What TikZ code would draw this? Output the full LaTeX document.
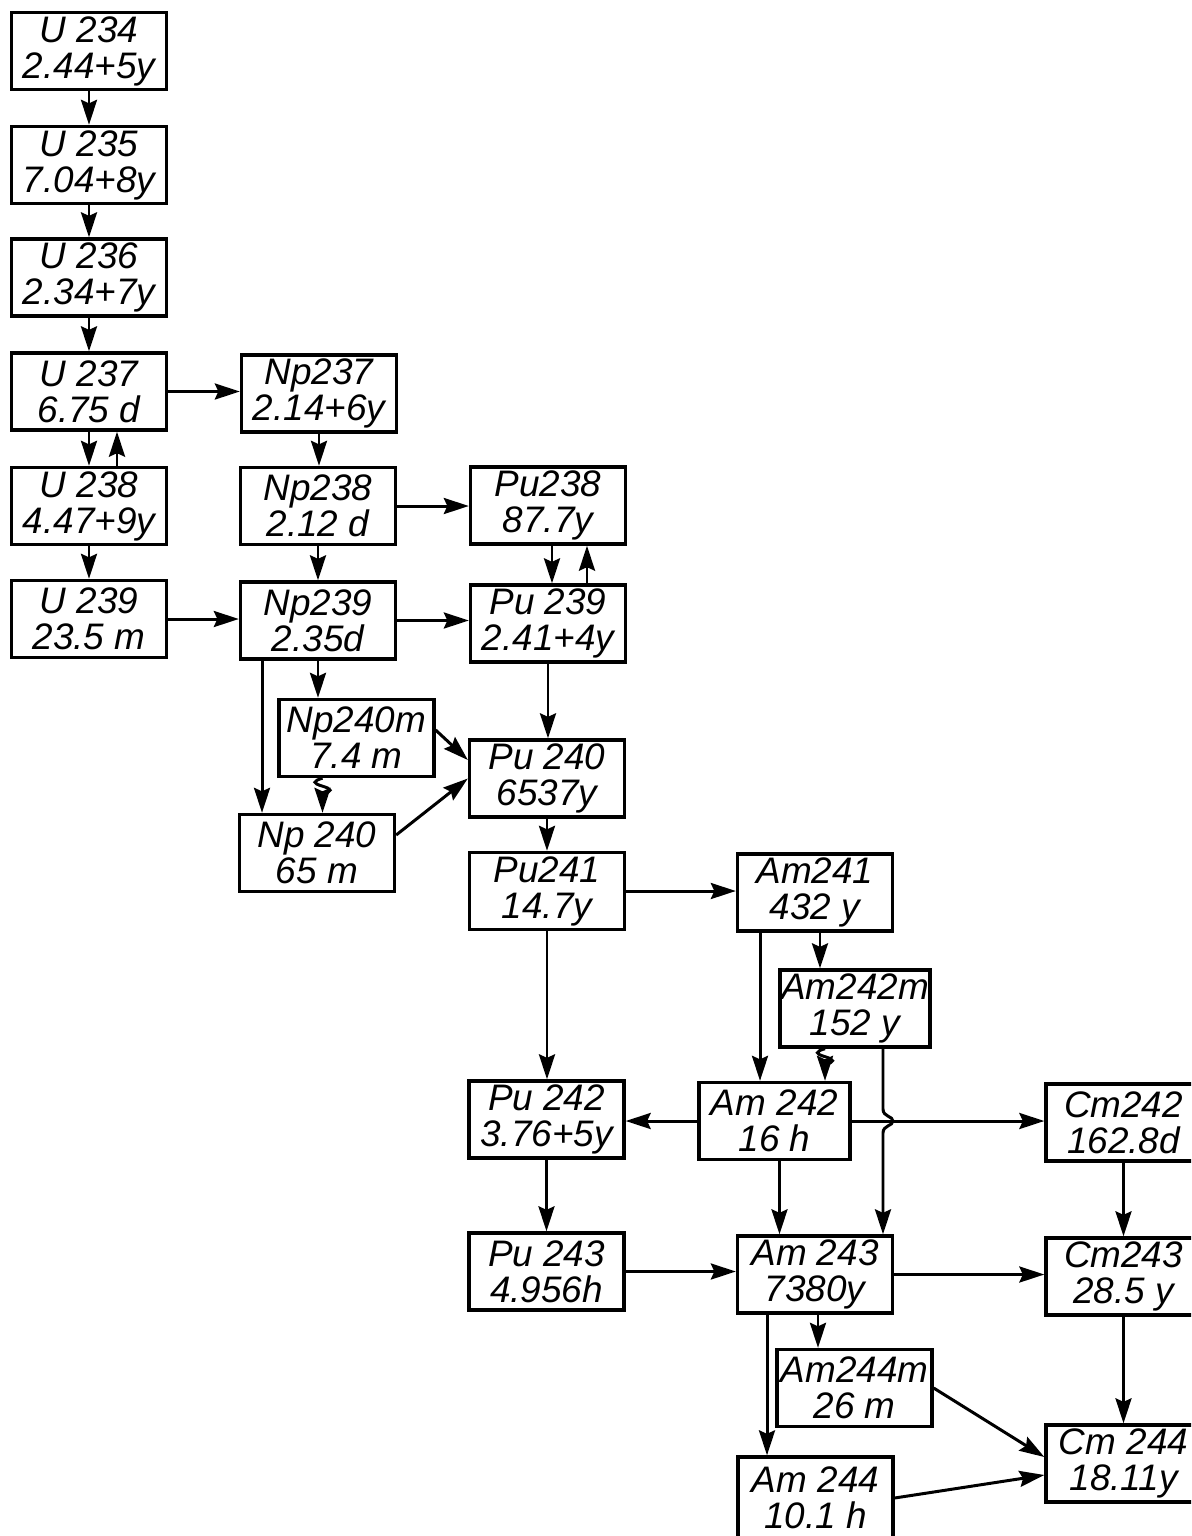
\documentclass[tikz,border=0pt]{standalone}
\usepackage{fontspec}
\setmainfont{Liberation Sans}
\usetikzlibrary{arrows.meta,calc}

\begin{document}
\begin{tikzpicture}[x=0.02cm,y=-0.02cm,
    iso/.style={draw,line width=1.9pt,minimum width=3.1cm,minimum height=1.54cm,
        inner sep=0pt,align=center,font=\fontsize{21}{20.5}\selectfont\itshape},
    arr/.style={line width=1.7pt,-{Stealth[length=0.5cm,width=0.32cm,inset=0.07cm]}}]
    \useasboundingbox (0,0) rectangle (1191,1536);
    \clip (0,0) rectangle (1191,1536);

    % uranium
    \node[iso] (u234) at (89,51)    {U 234\\2.44+5y};
    \node[iso] (u235) at (89,165)   {U 235\\7.04+8y};
    \node[iso] (u236) at (89,277.5) {U 236\\2.34+7y};
    \node[iso] (u237) at (89,391.5) {U 237\\6.75 d};
    \node[iso] (u238) at (89,506)   {U 238\\4.47+9y};
    \node[iso] (u239) at (89,619)   {U 239\\23.5 m};
    % neptunium
    \node[iso] (np237)  at (319,393.5) {Np237\\2.14+6y};
    \node[iso] (np238)  at (318,506)   {Np238\\2.12 d};
    \node[iso] (np239)  at (318,620.5) {Np239\\2.35d};
    \node[iso] (np240m) at (356.5,738) {Np240m\\7.4 m};
    \node[iso] (np240)  at (317,853)   {Np 240\\65 m};
    % plutonium
    \node[iso] (pu238) at (548,505.5)    {Pu238\\87.7y};
    \node[iso] (pu239) at (548,623.5)    {Pu 239\\2.41+4y};
    \node[iso] (pu240) at (547,778.5)    {Pu 240\\6537y};
    \node[iso] (pu241) at (547,891)      {Pu241\\14.7y};
    \node[iso] (pu242) at (546.5,1119.5) {Pu 242\\3.76+5y};
    \node[iso] (pu243) at (546.5,1271.5) {Pu 243\\4.956h};
    % americium
    \node[iso] (am241)  at (815,892.5) {Am241\\432 y};
    \node[iso,minimum width=3cm] (am242m) at (855,1008.5) {Am242m\\152 y};
    \node[iso,minimum width=3.02cm] (am242) at (774.5,1121) {Am 242\\16 h};
    \node[iso] (am243)  at (815,1274.5) {Am 243\\7380y};
    \node[iso] (am244m) at (854.5,1388) {Am244m\\26 m};
    \node[iso,minimum height=1.64cm] (am244) at (815.5,1498) {Am 244\\10.1 h};
    % curium
    \node[iso] (cm242) at (1123.5,1122.5) {Cm242\\162.8d};
    \node[iso] (cm243) at (1123.5,1276.5) {Cm243\\28.5 y};
    \node[iso] (cm244) at (1123.5,1463.5) {Cm 244\\18.11y};

    \draw[arr] (u234) -- (u235);
    \draw[arr] (u235) -- (u236);
    \draw[arr] (u236) -- (u237);
    \draw[arr] (u237) -- (u238);
    \draw[arr] ([xshift=0.56cm]u238.north) -- ([xshift=0.56cm]u237.south);
    \draw[arr] (u238) -- (u239);
    \draw[arr] (u237.east) -- (u237.east -| np237.west);
    \draw[arr] (u239.east) -- (u239.east -| np239.west);

    \draw[arr] (np237.south) -- (np237.south |- np238.north);
    \draw[arr] (np238) -- (np239);
    \draw[arr] (np238.east) -- (np238.east -| pu238.west);
    \draw[arr] (np239.east) -- (np239.east -| pu239.west);
    \draw[arr] (np239.south) -- (np239.south |- np240m.north);
    \draw[arr] ([xshift=-1.12cm]np239.south) -- ([xshift=-1.12cm]np239.south |- np240.north);
    \coordinate (w1) at ([xshift=-0.68cm]np240m.south);
    \draw[arr] (w1) .. controls +(-10,3) and +(-10,-3) .. ++(0,8)
        .. controls +(10,3) and +(10,-3) .. ++(0,8) -- (w1 |- np240.north);
    \draw[arr] ([yshift=0.16cm]np240m.east) -- ([yshift=0.37cm]pu240.west);
    \draw[arr] ([yshift=0.36cm]np240.east) -- (pu240.west);

    \draw[arr] ([xshift=0.08cm]pu238.south) -- ([xshift=0.08cm]pu238.south |- pu239.north);
    \draw[arr] ([xshift=0.78cm]pu239.north) -- ([xshift=0.78cm]pu239.north |- pu238.south);
    \draw[arr] (pu239.south) -- (pu239.south |- pu240.north);
    \draw[arr] (pu240.south) -- (pu240.south |- pu241.north);
    \draw[arr] (pu241.east) -- (pu241.east -| am241.west);
    \draw[arr] (pu241.south) -- (pu241.south |- pu242.north);
    \draw[arr] (pu242.south) -- (pu242.south |- pu243.north);
    \draw[arr] (pu243.east) -- (pu243.east -| am243.west);

    \draw[arr] ([xshift=0.1cm]am241.south) -- ([xshift=0.1cm]am241.south |- am242m.north);
    \draw[arr] ([xshift=-1.1cm]am241.south) -- ([xshift=-1.1cm]am241.south |- am242.north);
    \coordinate (w2) at ([xshift=-0.6cm]am242m.south);
    \draw[arr] (w2) .. controls +(-10,3) and +(-10,-3) .. ++(0,8)
        .. controls +(10,3) and +(10,-3) .. ++(0,8) -- (w2 |- am242.north);
    \coordinate (b1) at ([xshift=0.56cm]am242m.south);
    \coordinate (b2) at (b1 |- am242.east);
    \draw[arr] (b1) -- ([yshift=0.24cm]b2)
        .. controls ([yshift=0.08cm]b2) and ([xshift=0.2cm,yshift=0.1cm]b2) .. ([xshift=0.2cm]b2)
        .. controls ([xshift=0.2cm,yshift=-0.1cm]b2) and ([yshift=-0.08cm]b2) .. ([yshift=-0.24cm]b2)
        -- (b1 |- am243.north);
    \draw[arr] (am242.west) -- (am242.west -| pu242.east);
    \draw[arr] (am242.east) -- (am242.east -| cm242.west);
    \draw[arr] ([xshift=0.1cm]am242.south) -- ([xshift=0.1cm]am242.south |- am243.north);
    \draw[arr] (am243.east) -- (am243.east -| cm243.west);
    \draw[arr] ([xshift=0.06cm]am243.south) -- ([xshift=0.06cm]am243.south |- am244m.north);
    \draw[arr] ([xshift=-0.96cm]am243.south) -- ([xshift=-0.96cm]am243.south |- am244.north);
    \draw[arr] (am244m.east) -- ([yshift=0.13cm]cm244.west);
    \draw[arr] (am244.east) -- ([yshift=-0.23cm]cm244.west);

    \draw[arr] (cm242.south) -- (cm242.south |- cm243.north);
    \draw[arr] (cm243.south) -- (cm243.south |- cm244.north);
\end{tikzpicture}
\end{document}
